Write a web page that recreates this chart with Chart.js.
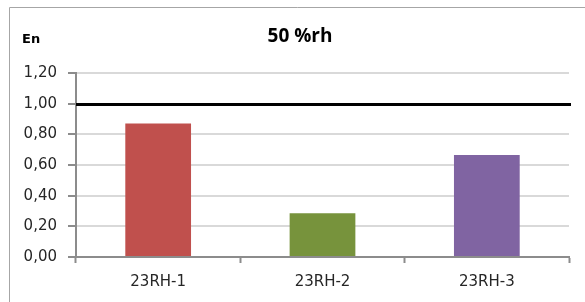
<!DOCTYPE html>
<html>
<head>
<meta charset="utf-8">
<title>50 %rh</title>
<script src="https://cdn.jsdelivr.net/npm/chart.js@4.4.1/dist/chart.umd.min.js"></script>
<style>
    html, body { margin: 0; padding: 0; background: #fff; }
    #wrap { position: relative; width: 585px; height: 302px; }
</style>
</head>
<body>
<div id="wrap"><canvas id="enChart" width="585" height="302"></canvas></div>
<script>
// Chart data
const categories = ['23RH-1', '23RH-2', '23RH-3'];
const enValues = [0.87, 0.285, 0.665];
const barColors = ['#C0504D', '#77933C', '#8064A2'];
const yTicks = [0, 0.2, 0.4, 0.6, 0.8, 1.0, 1.2];
const referenceValue = 1.0;
const chartTitle = '50 %rh';
const axisLabel = 'En';

// Frame, title, "En" label and the 1,00 limit line
const decorPlugin = {
    id: 'decor',
    beforeDraw(chart) {
        const ctx = chart.ctx;
        ctx.save();
        ctx.strokeStyle = '#a6a6a6';
        ctx.lineWidth = 1;
        ctx.beginPath();
        ctx.moveTo(9.5, 302);
        ctx.lineTo(9.5, 7.5);
        ctx.lineTo(585, 7.5);
        ctx.stroke();

        ctx.fillStyle = '#000';
        ctx.textBaseline = 'alphabetic';
        ctx.textAlign = 'left';
        ctx.font = 'bold 13px "DejaVu Sans"';
        ctx.fillText(axisLabel, 22, 43);

        ctx.textAlign = 'center';
        ctx.font = 'bold 19px "Open Sans"';
        ctx.fillText(chartTitle, 300, 42);
        ctx.restore();
    },
    afterDatasetsDraw(chart) {
        const ctx = chart.ctx;
        const y = Math.round(chart.scales.y.getPixelForValue(referenceValue)) + 0.5;
        ctx.save();
        ctx.strokeStyle = '#000';
        ctx.lineWidth = 3;
        ctx.beginPath();
        ctx.moveTo(chart.chartArea.left, y);
        ctx.lineTo(chart.chartArea.right + 2, y);
        ctx.stroke();
        ctx.restore();
    }
};

const ctx = document.getElementById('enChart').getContext('2d');
const chart = new Chart(ctx, {
    type: 'bar',
    data: {
        labels: categories,
        datasets: [{
            label: 'En',
            data: enValues,
            backgroundColor: barColors,
            borderWidth: 0,
            categoryPercentage: 1,
            barPercentage: 0.4
        }]
    },
    options: {
        responsive: false,
        animation: false,
        devicePixelRatio: 1,
        layout: { padding: { left: 0, right: 16, top: 73, bottom: 0 } },
        plugins: {
            legend: { display: false },
            tooltip: { enabled: false },
            title: { display: false }
        },
        scales: {
            x: {
                grid: {
                    offset: true,
                    drawOnChartArea: false,
                    tickLength: 6,
                    tickColor: '#8c8c8c',
                    tickWidth: 2
                },
                border: { color: '#8c8c8c', width: 2 },
                ticks: {
                    color: '#262626',
                    font: { family: '"DejaVu Sans"', size: 15 },
                    padding: 10
                },
                afterFit(scale) { scale.height = 45; }
            },
            y: {
                min: 0,
                max: 1.2,
                afterBuildTicks(scale) {
                    scale.ticks = yTicks.map(v => ({ value: v }));
                },
                grid: {
                    color: '#d9d9d9',
                    lineWidth: 2,
                    tickLength: 8,
                    tickColor: '#8c8c8c',
                    drawTicks: true
                },
                border: { color: '#8c8c8c', width: 2 },
                ticks: {
                    color: '#262626',
                    font: { family: '"DejaVu Sans"', size: 15 },
                    padding: 11,
                    callback: (value) => Number(value).toFixed(2).replace('.', ',')
                },
                afterFit(scale) { scale.width = 76; }
            }
        }
    },
    plugins: [decorPlugin]
});
</script>
</body>
</html>
